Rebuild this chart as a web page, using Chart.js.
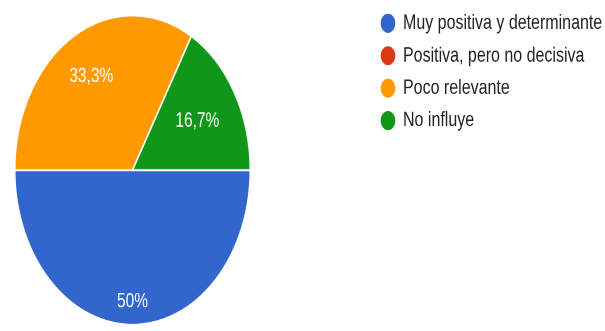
<!DOCTYPE html>
<html>
<head>
<meta charset="utf-8">
<script src="https://cdn.jsdelivr.net/npm/chart.js@4/dist/chart.umd.min.js"></script>
<style>
  html, body { margin: 0; padding: 0; background: #ffffff; }
  canvas { display: block; }
</style>
</head>
<body>
<canvas id="c" width="605" height="252" style="width:605px;height:331px"></canvas>
<script>
// ---- data ----
const categories = [
  'Muy positiva y determinante',
  'Positiva, pero no decisiva',
  'Poco relevante',
  'No influye'
];
const responses = [3, 0, 2, 1];

// ---- styles ----
const sliceColors = ['#3366cc', '#dc3912', '#ff9900', '#109618'];
const labelRadius = [0.85, 0.7, 0.7, 0.636];
const FONT = '"Liberation Sans", Arial, sans-serif';
const LEGEND_SIZE = 16;
const LEGEND_PAD = 8.7;
const LEGEND_BOX = 14;
const PIE_RIGHT = 251;     // right edge of the pie area (px)
const LEGEND_LEFT = 372.3; // left edge of the legend box (px)

// legend width as Chart.js computes it, so the legend starts at LEGEND_LEFT
const mctx = document.createElement('canvas').getContext('2d');
mctx.font = LEGEND_SIZE + 'px ' + FONT;
const maxText = Math.max(...categories.map(t => mctx.measureText(t).width));
const legendWidth = LEGEND_PAD + LEGEND_BOX + LEGEND_SIZE / 2 + maxText + 10;
const padRight = 605 - LEGEND_LEFT - legendWidth;
const spacer = LEGEND_LEFT - PIE_RIGHT;

const sliceLabels = {
  id: 'sliceLabels',
  afterDatasetsDraw(chart) {
    const meta = chart.getDatasetMeta(0);
    const total = responses.reduce((a, b) => a + b, 0);
    const ctx = chart.ctx;
    ctx.save();
    ctx.fillStyle = '#ffffff';
    ctx.font = '15.5px ' + FONT;
    ctx.textAlign = 'center';
    ctx.textBaseline = 'middle';
    meta.data.forEach((arc, i) => {
      if (!responses[i]) return;
      const p = arc.getProps(['x', 'y', 'startAngle', 'endAngle', 'outerRadius'], true);
      const mid = (p.startAngle + p.endAngle) / 2;
      const r = p.outerRadius * labelRadius[i];
      const pct = Math.round(responses[i] / total * 1000) / 10;
      ctx.fillText(String(pct).replace('.', ',') + '%', p.x + Math.cos(mid) * r, p.y + Math.sin(mid) * r);
    });
    ctx.restore();
  }
};

new Chart(document.getElementById('c'), {
  type: 'pie',
  data: {
    labels: categories,
    datasets: [{
      data: responses,
      backgroundColor: sliceColors,
      borderColor: '#ffffff',
      borderWidth: 1.5
    }]
  },
  options: {
    responsive: false,
    devicePixelRatio: 2,
    animation: false,
    rotation: 90,
    layout: { padding: { left: 14, top: 1, right: padRight, bottom: 4 } },
    plugins: {
      tooltip: { enabled: false },
      title: {
        display: true, text: '', position: 'top', fullSize: false,
        padding: 0, font: { size: 10, lineHeight: 1 }
      },
      subtitle: {
        display: true, text: '', position: 'right', fullSize: false, weight: 500,
        padding: { top: spacer - 10, bottom: 0 }, font: { size: 10, lineHeight: 1 }
      },
      legend: {
        position: 'right',
        align: 'start',
        maxWidth: 320,
        labels: {
          usePointStyle: true,
          pointStyle: 'circle',
          boxWidth: LEGEND_BOX,
          boxHeight: 10.3,
          padding: LEGEND_PAD,
          color: '#222222',
          font: { family: FONT, size: LEGEND_SIZE },
          generateLabels(chart) {
            const items = Chart.overrides.pie.plugins.legend.labels.generateLabels(chart);
            items.forEach(it => { it.lineWidth = 0; it.strokeStyle = 'rgba(0,0,0,0)'; });
            return items;
          }
        }
      }
    }
  },
  plugins: [sliceLabels]
});
</script>
</body>
</html>
